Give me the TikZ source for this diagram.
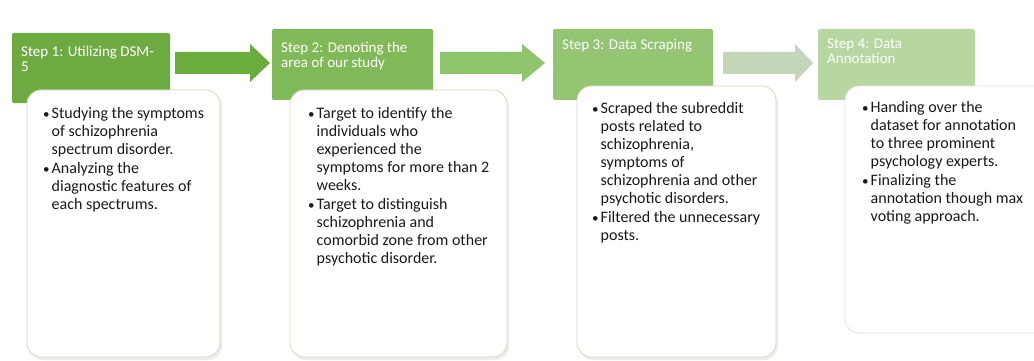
\documentclass[tikz,border=0pt]{standalone}
\usepackage{fontspec}
\setmainfont{Carlito}
\newcommand{\bul}{\makebox[8.5pt][l]{\fontsize{13}{13}\selectfont\textbullet}}
\begin{document}
\begin{tikzpicture}[x=1pt,y=-1pt,
  header/.style={fill=#1, rounded corners=2pt},
  card/.style={fill=white, draw=#1, line width=0.8pt, rounded corners=14pt},
  headtext/.style={anchor=north west, inner sep=0pt, text=white, align=left,
    font=\fontsize{15}{15}\selectfont},
  bodytext/.style={anchor=north west, inner sep=0pt, text=black!90,
    font=\fontsize{16}{17.9}\selectfont},
  blockarrow/.style={fill=#1}]
\useasboundingbox (0,0) rectangle (1034,361);
\fill[white] (0,0) rectangle (1034,361);

\definecolor{gA}{HTML}{6DAB42}
\definecolor{gB}{HTML}{80BA58}
\definecolor{gC}{HTML}{93C573}
\definecolor{gD}{HTML}{B6D8A0}
\definecolor{aA}{HTML}{6BAD3C}
\definecolor{aB}{HTML}{8EC46C}
\definecolor{aC}{HTML}{C3D6BA}
\definecolor{edgeA}{HTML}{D6DAB8}
\definecolor{edgeB}{HTML}{E0E0E0}

% header tiles
\fill[header=gA] (12,33) rectangle (170,103);
\fill[header=gB] (272,29) rectangle (433,100);
\fill[header=gC] (553,29) rectangle (713,100);
\fill[header=gD] (818,29) rectangle (975,100);

% block arrows between the tiles
\coordinate (a1) at (175,63);
\coordinate (a2) at (440,63);
\coordinate (a3) at (723,63);
\fill[blockarrow=aA] (a1) ++(0,-11) -- ++(75,0) -- ++(0,-8) -- (270,63)
  -- (250,82) -- ++(0,-8) -- ++(-75,0) -- cycle;
\fill[blockarrow=aB] (a2) ++(0,-11) -- ++(82,0) -- ++(0,-8) -- (545,63)
  -- (522,82) -- ++(0,-8) -- ++(-82,0) -- cycle;
\fill[blockarrow=aC] (a3) ++(0,-11) -- ++(72,0) -- ++(0,-8) -- (813,63)
  -- (795,82) -- ++(0,-8) -- ++(-72,0) -- cycle;

% header labels
\node[headtext] (h1) at (21,46) {Step 1: Utilizing DSM-\\5};
\node[headtext] (h2) at (281,42) {Step 2: Denoting the\\area of our study};
\node[headtext] (h3) at (562,39) {Step 3: Data Scraping};
\node[headtext] (h4) at (827,39) {Step 4: Data\\Annotation};

% content cards, each with a faint shadow
\foreach \xa/\ya/\xb/\yb in {27/90/220/357, 290/90/507/357, 577/86/776/357}
  \fill[black!7, rounded corners=14pt] (\xa+2,\ya+3) rectangle (\xb+2,\yb+3);
\draw[card=edgeA] (27,90) rectangle (220,357);
\draw[card=edgeA] (290,90) rectangle (507,357);
\draw[card=edgeA] (577,86) rectangle (776,357);
\draw[card=edgeB] (845,86) rectangle (1060,333);

\node[bodytext] (b1) at (43,106) {%
  \begin{tabular}{@{}l@{}l@{}}
  \bul & Studying the symptoms\\
   & of schizophrenia\\
   & spectrum disorder.\\[1.5pt]
  \bul & Analyzing the\\
   & diagnostic features of\\
   & each spectrums.
  \end{tabular}};

\node[bodytext] (b2) at (308,106) {%
  \begin{tabular}{@{}l@{}l@{}}
  \bul & Target to identify the\\
   & individuals who\\
   & experienced the\\
   & symptoms for more than 2\\
   & weeks.\\[1.5pt]
  \bul & Target to distinguish\\
   & schizophrenia and\\
   & comorbid zone from other\\
   & psychotic disorder.
  \end{tabular}};

\node[bodytext] (b3) at (592,101) {%
  \begin{tabular}{@{}l@{}l@{}}
  \bul & Scraped the subreddit\\
   & posts related to\\
   & schizophrenia,\\
   & symptoms of\\
   & schizophrenia and other\\
   & psychotic disorders.\\[1.5pt]
  \bul & Filtered the unnecessary\\
   & posts.
  \end{tabular}};

\node[bodytext] (b4) at (862,100) {%
  \begin{tabular}{@{}l@{}l@{}}
  \bul & Handing over the\\
   & dataset for annotation\\
   & to three prominent\\
   & psychology experts.\\[1.5pt]
  \bul & Finalizing the\\
   & annotation though max\\
   & voting approach.
  \end{tabular}};
\end{tikzpicture}
\end{document}
